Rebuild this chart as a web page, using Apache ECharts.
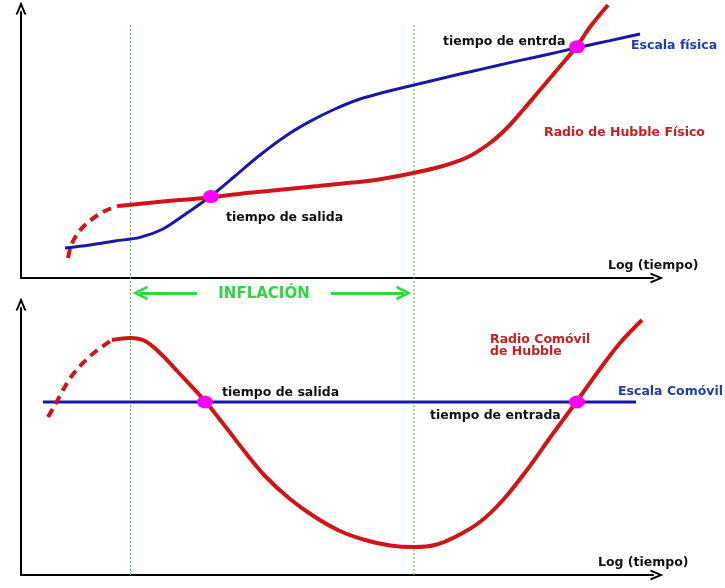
<!DOCTYPE html>
<html><head><meta charset="utf-8">
<script src="https://cdn.jsdelivr.net/npm/echarts@6/dist/echarts.min.js"></script>
<style>html,body{margin:0;padding:0;background:#fff}#c{width:725px;height:588px}</style>
</head><body><div id="c"></div>
<script>
// ---- Top panel (physical): x = log(tiempo), y = escala (arbitrary units)
const topEscalaFisica = [[0.88,1.5],[1.38,1.65],[1.88,1.85],[2.38,2.03],[2.84,2.45],[3.28,3.18],[3.8,4.1],[4.28,5.1],[4.78,6.15],[5.28,7.08],[5.78,7.83],[6.28,8.45],[6.78,8.95],[7.28,9.3],[7.78,9.6],[8.28,9.9],[8.78,10.2],[9.28,10.48],[9.78,10.77],[10.28,11.04],[10.78,11.32],[11.28,11.6],[11.78,11.87],[12.38,12.2]];
const topHubbleDashed = [[0.94,1.0],[1.0,1.6],[1.1,2.1],[1.26,2.6],[1.48,3.05],[1.72,3.4],[1.94,3.6]];
const topHubbleSolid = [[1.94,3.6],[2.44,3.73],[2.94,3.85],[3.44,3.95],[3.94,4.08],[4.44,4.23],[4.94,4.35],[5.44,4.48],[5.94,4.6],[6.44,4.73],[6.94,4.85],[7.44,5.05],[7.94,5.3],[8.44,5.6],[8.94,6.05],[9.38,6.75],[9.72,7.5],[10.04,8.4],[10.38,9.4],[10.72,10.4],[11.12,11.6],[11.38,12.55],[11.74,13.65]];
const topCrossings = [[3.8,4.07],[11.12,11.56]];
const topLabelText = ['tiempo de entrda','Escala física','Radio de Hubble Físico','tiempo de salida','Log (tiempo)'];
const topLabelPos = [[8.44,11.8],[12.2,11.6],[10.46,7.25],[4.1,3.0],[11.74,0.6]];

// ---- Bottom panel (comoving)
const botEscalaComovil = [[0.44,8.65],[12.3,8.65]];
const botHubbleDashed = [[0.54,7.9],[0.68,8.5],[0.82,9.15],[1.0,9.9],[1.22,10.55],[1.48,11.15],[1.82,11.75]];
const botHubbleSolid = [[1.82,11.75],[2.18,11.85],[2.48,11.7],[2.78,11.1],[3.18,10.05],[3.68,8.7],[4.08,7.45],[4.48,6.15],[4.88,4.95],[5.38,3.8],[5.88,2.9],[6.38,2.2],[6.88,1.75],[7.38,1.48],[7.88,1.4],[8.28,1.5],[8.68,1.9],[9.18,2.65],[9.64,3.75],[10.12,5.25],[10.62,7.0],[11.12,8.7],[11.58,10.3],[11.98,11.6],[12.42,12.75]];
const botCrossings = [[3.68,8.65],[11.12,8.65]];
const botLabelText = ['tiempo de salida','Radio Comóvil\nde Hubble','Escala Comóvil','tiempo de entrada','Log (tiempo)'];
const botLabelPos = [[4.02,9.1],[9.38,11.45],[11.94,9.15],[8.18,7.95],[11.54,0.6]];

// ---- Overlay: inflation period
const inflationBounds = [2.19, 7.86];
const inflationSpan = [0.55, 28.15];
const inflationArrowLeft = [[3.52,14.75],[2.38,14.75]];
const inflationArrowRight = [[6.2,14.75],[7.66,14.75]];
const inflationLabel = ['INFLACIÓN'];
const inflationLabelPos = [[4.86,14.7]];

const chevron = 'path://M5,0 L10,12 L8,12 L5,4.5 L2,12 L0,12 Z';
const RED = '#cf1515', BLUE = '#1818a6', MAG = '#ff00ff';
const FONT = 'DejaVu Sans';

function baseX(g, show) {
  return {gridIndex:g, type:'value', min:0, max:12.64, show: show,
    axisLine:{show:true, onZero:false, lineStyle:{color:'#000', width:2}, symbol:['none', chevron], symbolSize:[11,13], symbolOffset:[0,4]},
    axisTick:{show:false}, axisLabel:{show:false}, splitLine:{show:false}};
}
function baseY(g, max, show) {
  return {gridIndex:g, type:'value', min:0, max:max, show: show,
    axisLine:{show:true, onZero:false, lineStyle:{color:'#000', width:2}, symbol:['none', chevron], symbolSize:[11,13], symbolOffset:[0,4]},
    axisTick:{show:false}, axisLabel:{show:false}, splitLine:{show:false}};
}
function labelSeries(g, texts, pos, colors, size, align) {
  return {type:'scatter', xAxisIndex:g, yAxisIndex:g, symbolSize:0, silent:true, z:20,
    itemStyle:{opacity:1},
    data: texts.map((t,i)=>({value:pos[i], name:t,
      label:{show:true, formatter:t, position:[0,0], align:align || 'left', verticalAlign:'middle', opacity:1,
        color:colors[i], fontFamily:FONT, fontWeight:'bold', fontSize:size || 12.5, lineHeight:12}}))};
}
function curve(g, data, color, width, dashed, smooth) {
  return {type:'line', xAxisIndex:g, yAxisIndex:g, data:data, smooth:smooth,
    showSymbol:false, symbol:'none', clip:false, silent:true, z:5,
    lineStyle:{color:color, width:width, type: dashed ? [9,6] : 'solid', cap:'butt'}};
}
function dots(g, data) {
  return {type:'scatter', xAxisIndex:g, yAxisIndex:g, data:data, symbolSize:[16,13], silent:true, z:10,
    itemStyle:{color:MAG, opacity:1}};
}
function vline(x) {
  return {type:'line', xAxisIndex:2, yAxisIndex:2, data:[[x,inflationSpan[1]],[x,inflationSpan[0]]],
    showSymbol:false, symbol:'none', silent:true, z:1,
    lineStyle:{color:'#33c433', width:1, type:[2,2]}};
}

const option = {
  backgroundColor:'#fff',
  animation:false,
  grid:[
    {left:21, top:12, width:632, height:266},
    {left:21, top:308, width:632, height:267},
    {left:21, top:0, width:632, height:588}
  ],
  xAxis:[baseX(0,true), baseX(1,true), baseX(2,false)],
  yAxis:[baseY(0,13.3,true), baseY(1,13.35,true), baseY(2,29.4,false)],
  series:[
    // overlay
    vline(inflationBounds[0]),
    vline(inflationBounds[1]),
    {type:'lines', coordinateSystem:'cartesian2d', xAxisIndex:2, yAxisIndex:2, silent:true, z:2,
      symbol:['none', chevron], symbolSize:[13,15],
      lineStyle:{color:'#2bdc3a', width:3, opacity:1},
      data:[{coords:inflationArrowLeft},{coords:inflationArrowRight}]},
    labelSeries(2, inflationLabel, inflationLabelPos, ['#2fd640'], 15, 'center'),
    // top panel
    curve(0, topHubbleDashed, RED, 4, true, 0.35),
    curve(0, topHubbleSolid, RED, 4, false, 0.35),
    curve(0, topEscalaFisica, BLUE, 3, false, 0.35),
    dots(0, topCrossings),
    labelSeries(0, topLabelText, topLabelPos, ['#111','#1f3ea8','#c82020','#111','#111']),
    // bottom panel
    curve(1, botEscalaComovil, BLUE, 3, false, 0),
    curve(1, botHubbleDashed, RED, 4, true, 0.35),
    curve(1, botHubbleSolid, RED, 4, false, 0.35),
    dots(1, botCrossings),
    labelSeries(1, botLabelText, botLabelPos, ['#111','#c82020','#1f3ea8','#111','#111'])
  ]
};
const chart = echarts.init(document.getElementById('c'), null, {renderer:'canvas'});
chart.setOption(option);
</script>
</body></html>
